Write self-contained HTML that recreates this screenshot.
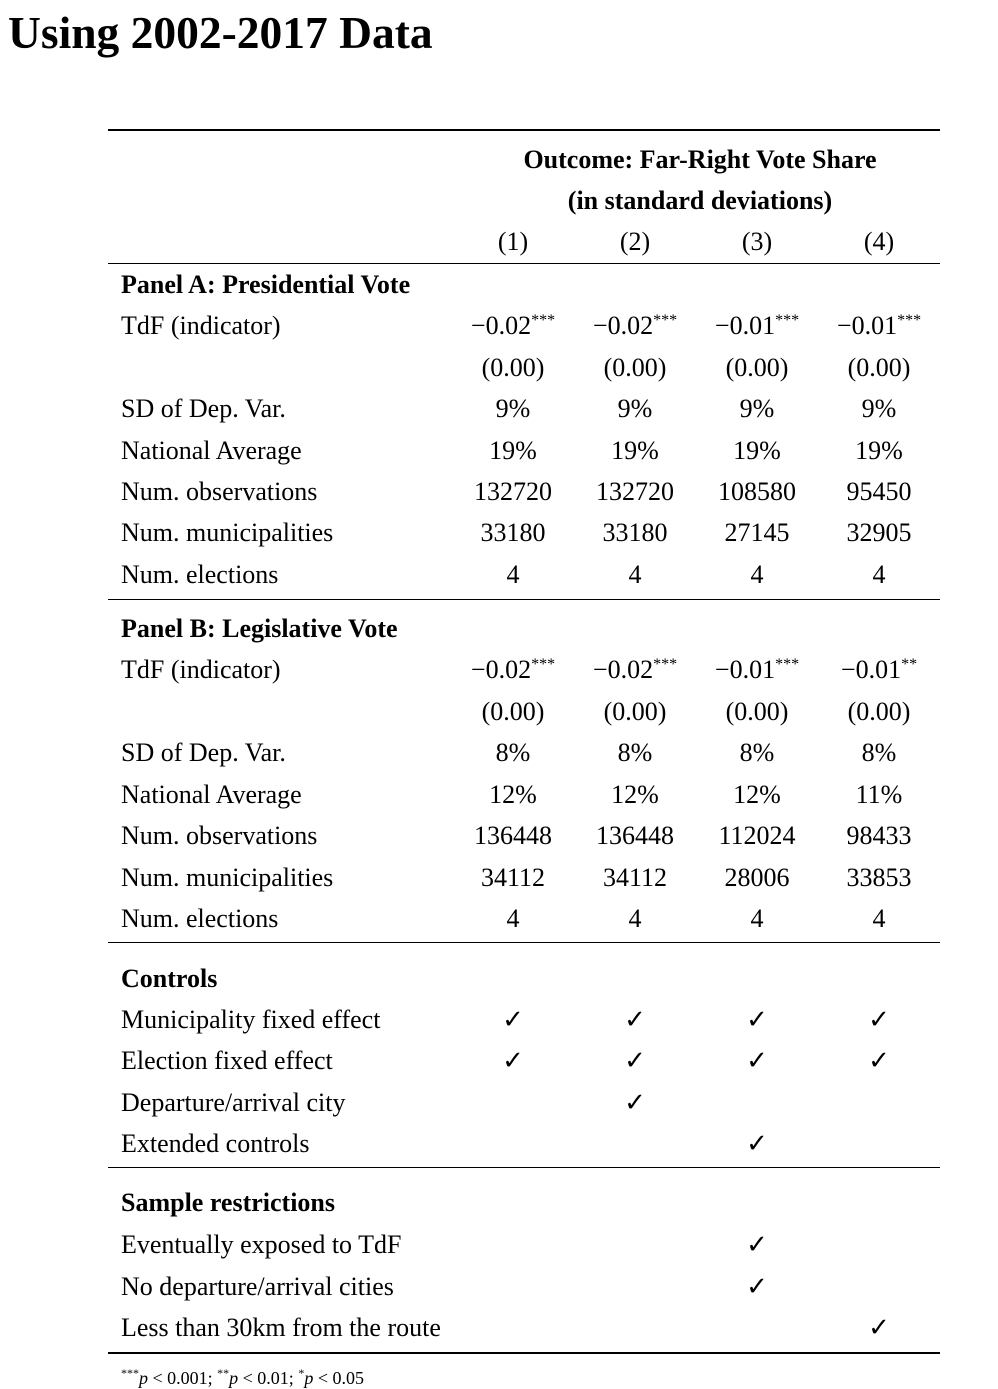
<!DOCTYPE html>
<html><head><meta charset="utf-8"><style>
body{margin:0;width:998px;height:1388px;background:#fff;position:relative;font-family:"Liberation Serif",serif;color:#000;overflow:hidden}
.t{position:absolute;left:8px;top:7px;font-size:45.5px;font-weight:bold;line-height:52px;white-space:nowrap}
.l{position:absolute;left:121px;font-size:26px;line-height:30px;white-space:nowrap}
.c{position:absolute;width:140px;text-align:center;font-size:26px;line-height:30px;white-space:nowrap}
.h{position:absolute;left:440px;width:520px;text-align:center;font-size:26px;font-weight:bold;line-height:30px}
.b{font-weight:bold}
.rule{position:absolute;left:108px;width:832px;background:#000}
sup{font-size:16px;vertical-align:9px;line-height:0}
.f{position:absolute;left:121px;top:1367px;font-size:18px;line-height:22px;white-space:nowrap}
.f sup{font-size:12px;vertical-align:7px}
</style></head><body>
<div class="t">Using 2002-2017 Data</div>
<div class="rule" style="top:129px;height:2px"></div>
<div class="h" style="top:145px">Outcome: Far-Right Vote Share</div>
<div class="h" style="top:186px">(in standard deviations)</div>
<div class="c" style="left:443px;top:227px">(1)</div>
<div class="c" style="left:565px;top:227px">(2)</div>
<div class="c" style="left:687px;top:227px">(3)</div>
<div class="c" style="left:809px;top:227px">(4)</div>
<div class="rule" style="top:263px;height:1px"></div>

<div class="l b" style="top:270px">Panel A: Presidential Vote</div>
<div class="l" style="top:311px">TdF (indicator)</div>
<div class="c" style="left:443px;top:311px">−0.02<sup>***</sup></div>
<div class="c" style="left:565px;top:311px">−0.02<sup>***</sup></div>
<div class="c" style="left:687px;top:311px">−0.01<sup>***</sup></div>
<div class="c" style="left:809px;top:311px">−0.01<sup>***</sup></div>
<div class="c" style="left:443px;top:353px">(0.00)</div>
<div class="c" style="left:565px;top:353px">(0.00)</div>
<div class="c" style="left:687px;top:353px">(0.00)</div>
<div class="c" style="left:809px;top:353px">(0.00)</div>
<div class="l" style="top:394px">SD of Dep. Var.</div>
<div class="c" style="left:443px;top:394px">9%</div><div class="c" style="left:565px;top:394px">9%</div><div class="c" style="left:687px;top:394px">9%</div><div class="c" style="left:809px;top:394px">9%</div>
<div class="l" style="top:436px">National Average</div>
<div class="c" style="left:443px;top:436px">19%</div><div class="c" style="left:565px;top:436px">19%</div><div class="c" style="left:687px;top:436px">19%</div><div class="c" style="left:809px;top:436px">19%</div>
<div class="l" style="top:477px">Num. observations</div>
<div class="c" style="left:443px;top:477px">132720</div><div class="c" style="left:565px;top:477px">132720</div><div class="c" style="left:687px;top:477px">108580</div><div class="c" style="left:809px;top:477px">95450</div>
<div class="l" style="top:518px">Num. municipalities</div>
<div class="c" style="left:443px;top:518px">33180</div><div class="c" style="left:565px;top:518px">33180</div><div class="c" style="left:687px;top:518px">27145</div><div class="c" style="left:809px;top:518px">32905</div>
<div class="l" style="top:560px">Num. elections</div>
<div class="c" style="left:443px;top:560px">4</div><div class="c" style="left:565px;top:560px">4</div><div class="c" style="left:687px;top:560px">4</div><div class="c" style="left:809px;top:560px">4</div>
<div class="rule" style="top:599px;height:1px"></div>

<div class="l b" style="top:614px">Panel B: Legislative Vote</div>
<div class="l" style="top:655px">TdF (indicator)</div>
<div class="c" style="left:443px;top:655px">−0.02<sup>***</sup></div>
<div class="c" style="left:565px;top:655px">−0.02<sup>***</sup></div>
<div class="c" style="left:687px;top:655px">−0.01<sup>***</sup></div>
<div class="c" style="left:809px;top:655px">−0.01<sup>**</sup></div>
<div class="c" style="left:443px;top:697px">(0.00)</div>
<div class="c" style="left:565px;top:697px">(0.00)</div>
<div class="c" style="left:687px;top:697px">(0.00)</div>
<div class="c" style="left:809px;top:697px">(0.00)</div>
<div class="l" style="top:738px">SD of Dep. Var.</div>
<div class="c" style="left:443px;top:738px">8%</div><div class="c" style="left:565px;top:738px">8%</div><div class="c" style="left:687px;top:738px">8%</div><div class="c" style="left:809px;top:738px">8%</div>
<div class="l" style="top:780px">National Average</div>
<div class="c" style="left:443px;top:780px">12%</div><div class="c" style="left:565px;top:780px">12%</div><div class="c" style="left:687px;top:780px">12%</div><div class="c" style="left:809px;top:780px">11%</div>
<div class="l" style="top:821px">Num. observations</div>
<div class="c" style="left:443px;top:821px">136448</div><div class="c" style="left:565px;top:821px">136448</div><div class="c" style="left:687px;top:821px">112024</div><div class="c" style="left:809px;top:821px">98433</div>
<div class="l" style="top:863px">Num. municipalities</div>
<div class="c" style="left:443px;top:863px">34112</div><div class="c" style="left:565px;top:863px">34112</div><div class="c" style="left:687px;top:863px">28006</div><div class="c" style="left:809px;top:863px">33853</div>
<div class="l" style="top:904px">Num. elections</div>
<div class="c" style="left:443px;top:904px">4</div><div class="c" style="left:565px;top:904px">4</div><div class="c" style="left:687px;top:904px">4</div><div class="c" style="left:809px;top:904px">4</div>
<div class="rule" style="top:942px;height:1px"></div>

<div class="l b" style="top:964px">Controls</div>
<div class="l" style="top:1005px">Municipality fixed effect</div>
<div class="c" style="left:443px;top:1005px">✓</div><div class="c" style="left:565px;top:1005px">✓</div><div class="c" style="left:687px;top:1005px">✓</div><div class="c" style="left:809px;top:1005px">✓</div>
<div class="l" style="top:1046px">Election fixed effect</div>
<div class="c" style="left:443px;top:1046px">✓</div><div class="c" style="left:565px;top:1046px">✓</div><div class="c" style="left:687px;top:1046px">✓</div><div class="c" style="left:809px;top:1046px">✓</div>
<div class="l" style="top:1088px">Departure/arrival city</div>
<div class="c" style="left:565px;top:1088px">✓</div>
<div class="l" style="top:1129px">Extended controls</div>
<div class="c" style="left:687px;top:1129px">✓</div>
<div class="rule" style="top:1167px;height:1px"></div>

<div class="l b" style="top:1188px">Sample restrictions</div>
<div class="l" style="top:1230px">Eventually exposed to TdF</div>
<div class="c" style="left:687px;top:1230px">✓</div>
<div class="l" style="top:1272px">No departure/arrival cities</div>
<div class="c" style="left:687px;top:1272px">✓</div>
<div class="l" style="top:1313px">Less than 30km from the route</div>
<div class="c" style="left:809px;top:1313px">✓</div>
<div class="rule" style="top:1352px;height:2px"></div>

<div class="f"><sup>***</sup><i>p</i> &lt; 0.001; <sup>**</sup><i>p</i> &lt; 0.01; <sup>*</sup><i>p</i> &lt; 0.05</div>
</body></html>
